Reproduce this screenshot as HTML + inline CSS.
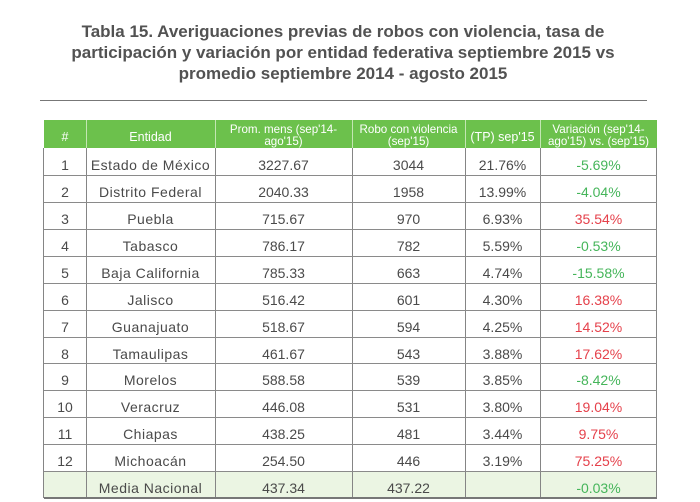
<!DOCTYPE html>
<html>
<head>
<meta charset="utf-8">
<style>
  html, body { margin:0; padding:0; background:#ffffff; }
  body { width:700px; height:499px; position:relative; overflow:hidden;
         font-family:"Liberation Sans", Arial, sans-serif; }
  .title { position:absolute; left:0; top:21px; width:686px; text-align:center;
           font-weight:bold; font-size:17px; line-height:21px; color:#525252; }
  .rule { position:absolute; left:40px; top:100px; width:607px; height:1px; background:#777; }
  .hdr { position:absolute; top:120px; height:28px; left:44px; width:613px; background:#6cc14c; }
  .hsep { position:absolute; top:120px; height:28px; width:1px; background:#c4e6b3; }
  .ht { position:absolute; color:#fff; font-size:11.6px; text-align:center; white-space:nowrap; }
  .ht2 { top:124px; line-height:12px; }
  .ht1 { top:123px; line-height:28px; font-size:12.5px; }
  .media { position:absolute; left:44px; width:613px; top:471px; height:27px; background:#ebf5e3; }
  .vl { position:absolute; top:148px; height:350px; width:1px; background:#858585; }
  .hl { position:absolute; left:44px; width:613px; height:1px; background:#8a8a8a; }
  .c { position:absolute; font-size:14px; line-height:27px; color:#4a4a4a; text-align:center; white-space:nowrap; }
  .e { letter-spacing:0.5px; }
  .g { color:#45b55a; }
  .r { color:#e5414b; }
</style>
</head>
<body>
<div class="title">Tabla 15. Averiguaciones previas de robos con violencia, tasa de<br>participación y variación por entidad federativa septiembre 2015 vs<br>promedio septiembre 2014 - agosto 2015</div>
<div class="rule"></div>

<div class="hdr"></div>
<div class="hsep" style="left:86px"></div>
<div class="hsep" style="left:215px"></div>
<div class="hsep" style="left:352px"></div>
<div class="hsep" style="left:465px"></div>
<div class="hsep" style="left:540px"></div>

<div class="ht ht1" style="left:44px;width:42px">#</div>
<div class="ht ht1" style="left:86px;width:129px">Entidad</div>
<div class="ht ht2" style="left:215px;width:137px">Prom. mens (sep'14-<br>ago'15)</div>
<div class="ht ht2" style="left:352px;width:113px">Robo con violencia<br>(sep'15)</div>
<div class="ht ht1" style="left:465px;width:75px">(TP) sep'15</div>
<div class="ht ht2" style="left:540px;width:117px">Variación (sep'14-<br>ago'15) vs. (sep'15)</div>

<div class="media"></div>

<!-- vertical lines -->
<div class="vl" style="left:43px"></div>
<div class="vl" style="left:86px"></div>
<div class="vl" style="left:215px"></div>
<div class="vl" style="left:352px"></div>
<div class="vl" style="left:465px"></div>
<div class="vl" style="left:540px"></div>
<div class="vl" style="left:656px"></div>

<!-- horizontal lines -->
<div class="hl" style="top:175px"></div>
<div class="hl" style="top:202px"></div>
<div class="hl" style="top:229px"></div>
<div class="hl" style="top:256px"></div>
<div class="hl" style="top:283px"></div>
<div class="hl" style="top:310px"></div>
<div class="hl" style="top:337px"></div>
<div class="hl" style="top:363px"></div>
<div class="hl" style="top:390px"></div>
<div class="hl" style="top:417px"></div>
<div class="hl" style="top:444px"></div>
<div class="hl" style="top:471px"></div>
<div class="hl" style="top:497px;height:2px;background:#777"></div>

<!-- rows -->
<div class="c" style="top:152px;left:44px;width:42px">1</div>
<div class="c e" style="top:152px;left:86px;width:129px">Estado de México</div>
<div class="c" style="top:152px;left:215px;width:137px">3227.67</div>
<div class="c" style="top:152px;left:352px;width:113px">3044</div>
<div class="c" style="top:152px;left:465px;width:75px">21.76%</div>
<div class="c g" style="top:152px;left:540px;width:117px">-5.69%</div>

<div class="c" style="top:179px;left:44px;width:42px">2</div>
<div class="c e" style="top:179px;left:86px;width:129px">Distrito Federal</div>
<div class="c" style="top:179px;left:215px;width:137px">2040.33</div>
<div class="c" style="top:179px;left:352px;width:113px">1958</div>
<div class="c" style="top:179px;left:465px;width:75px">13.99%</div>
<div class="c g" style="top:179px;left:540px;width:117px">-4.04%</div>

<div class="c" style="top:206px;left:44px;width:42px">3</div>
<div class="c e" style="top:206px;left:86px;width:129px">Puebla</div>
<div class="c" style="top:206px;left:215px;width:137px">715.67</div>
<div class="c" style="top:206px;left:352px;width:113px">970</div>
<div class="c" style="top:206px;left:465px;width:75px">6.93%</div>
<div class="c r" style="top:206px;left:540px;width:117px">35.54%</div>

<div class="c" style="top:233px;left:44px;width:42px">4</div>
<div class="c e" style="top:233px;left:86px;width:129px">Tabasco</div>
<div class="c" style="top:233px;left:215px;width:137px">786.17</div>
<div class="c" style="top:233px;left:352px;width:113px">782</div>
<div class="c" style="top:233px;left:465px;width:75px">5.59%</div>
<div class="c g" style="top:233px;left:540px;width:117px">-0.53%</div>

<div class="c" style="top:260px;left:44px;width:42px">5</div>
<div class="c e" style="top:260px;left:86px;width:129px">Baja California</div>
<div class="c" style="top:260px;left:215px;width:137px">785.33</div>
<div class="c" style="top:260px;left:352px;width:113px">663</div>
<div class="c" style="top:260px;left:465px;width:75px">4.74%</div>
<div class="c g" style="top:260px;left:540px;width:117px">-15.58%</div>

<div class="c" style="top:287px;left:44px;width:42px">6</div>
<div class="c e" style="top:287px;left:86px;width:129px">Jalisco</div>
<div class="c" style="top:287px;left:215px;width:137px">516.42</div>
<div class="c" style="top:287px;left:352px;width:113px">601</div>
<div class="c" style="top:287px;left:465px;width:75px">4.30%</div>
<div class="c r" style="top:287px;left:540px;width:117px">16.38%</div>

<div class="c" style="top:314px;left:44px;width:42px">7</div>
<div class="c e" style="top:314px;left:86px;width:129px">Guanajuato</div>
<div class="c" style="top:314px;left:215px;width:137px">518.67</div>
<div class="c" style="top:314px;left:352px;width:113px">594</div>
<div class="c" style="top:314px;left:465px;width:75px">4.25%</div>
<div class="c r" style="top:314px;left:540px;width:117px">14.52%</div>

<div class="c" style="top:341px;left:44px;width:42px">8</div>
<div class="c e" style="top:341px;left:86px;width:129px">Tamaulipas</div>
<div class="c" style="top:341px;left:215px;width:137px">461.67</div>
<div class="c" style="top:341px;left:352px;width:113px">543</div>
<div class="c" style="top:341px;left:465px;width:75px">3.88%</div>
<div class="c r" style="top:341px;left:540px;width:117px">17.62%</div>

<div class="c" style="top:367px;left:44px;width:42px">9</div>
<div class="c e" style="top:367px;left:86px;width:129px">Morelos</div>
<div class="c" style="top:367px;left:215px;width:137px">588.58</div>
<div class="c" style="top:367px;left:352px;width:113px">539</div>
<div class="c" style="top:367px;left:465px;width:75px">3.85%</div>
<div class="c g" style="top:367px;left:540px;width:117px">-8.42%</div>

<div class="c" style="top:394px;left:44px;width:42px">10</div>
<div class="c e" style="top:394px;left:86px;width:129px">Veracruz</div>
<div class="c" style="top:394px;left:215px;width:137px">446.08</div>
<div class="c" style="top:394px;left:352px;width:113px">531</div>
<div class="c" style="top:394px;left:465px;width:75px">3.80%</div>
<div class="c r" style="top:394px;left:540px;width:117px">19.04%</div>

<div class="c" style="top:421px;left:44px;width:42px">11</div>
<div class="c e" style="top:421px;left:86px;width:129px">Chiapas</div>
<div class="c" style="top:421px;left:215px;width:137px">438.25</div>
<div class="c" style="top:421px;left:352px;width:113px">481</div>
<div class="c" style="top:421px;left:465px;width:75px">3.44%</div>
<div class="c r" style="top:421px;left:540px;width:117px">9.75%</div>

<div class="c" style="top:448px;left:44px;width:42px">12</div>
<div class="c e" style="top:448px;left:86px;width:129px">Michoacán</div>
<div class="c" style="top:448px;left:215px;width:137px">254.50</div>
<div class="c" style="top:448px;left:352px;width:113px">446</div>
<div class="c" style="top:448px;left:465px;width:75px">3.19%</div>
<div class="c r" style="top:448px;left:540px;width:117px">75.25%</div>

<div class="c e" style="top:475px;left:86px;width:129px">Media Nacional</div>
<div class="c" style="top:475px;left:215px;width:137px">437.34</div>
<div class="c" style="top:475px;left:352px;width:113px">437.22</div>
<div class="c g" style="top:475px;left:540px;width:117px">-0.03%</div>
</body>
</html>
